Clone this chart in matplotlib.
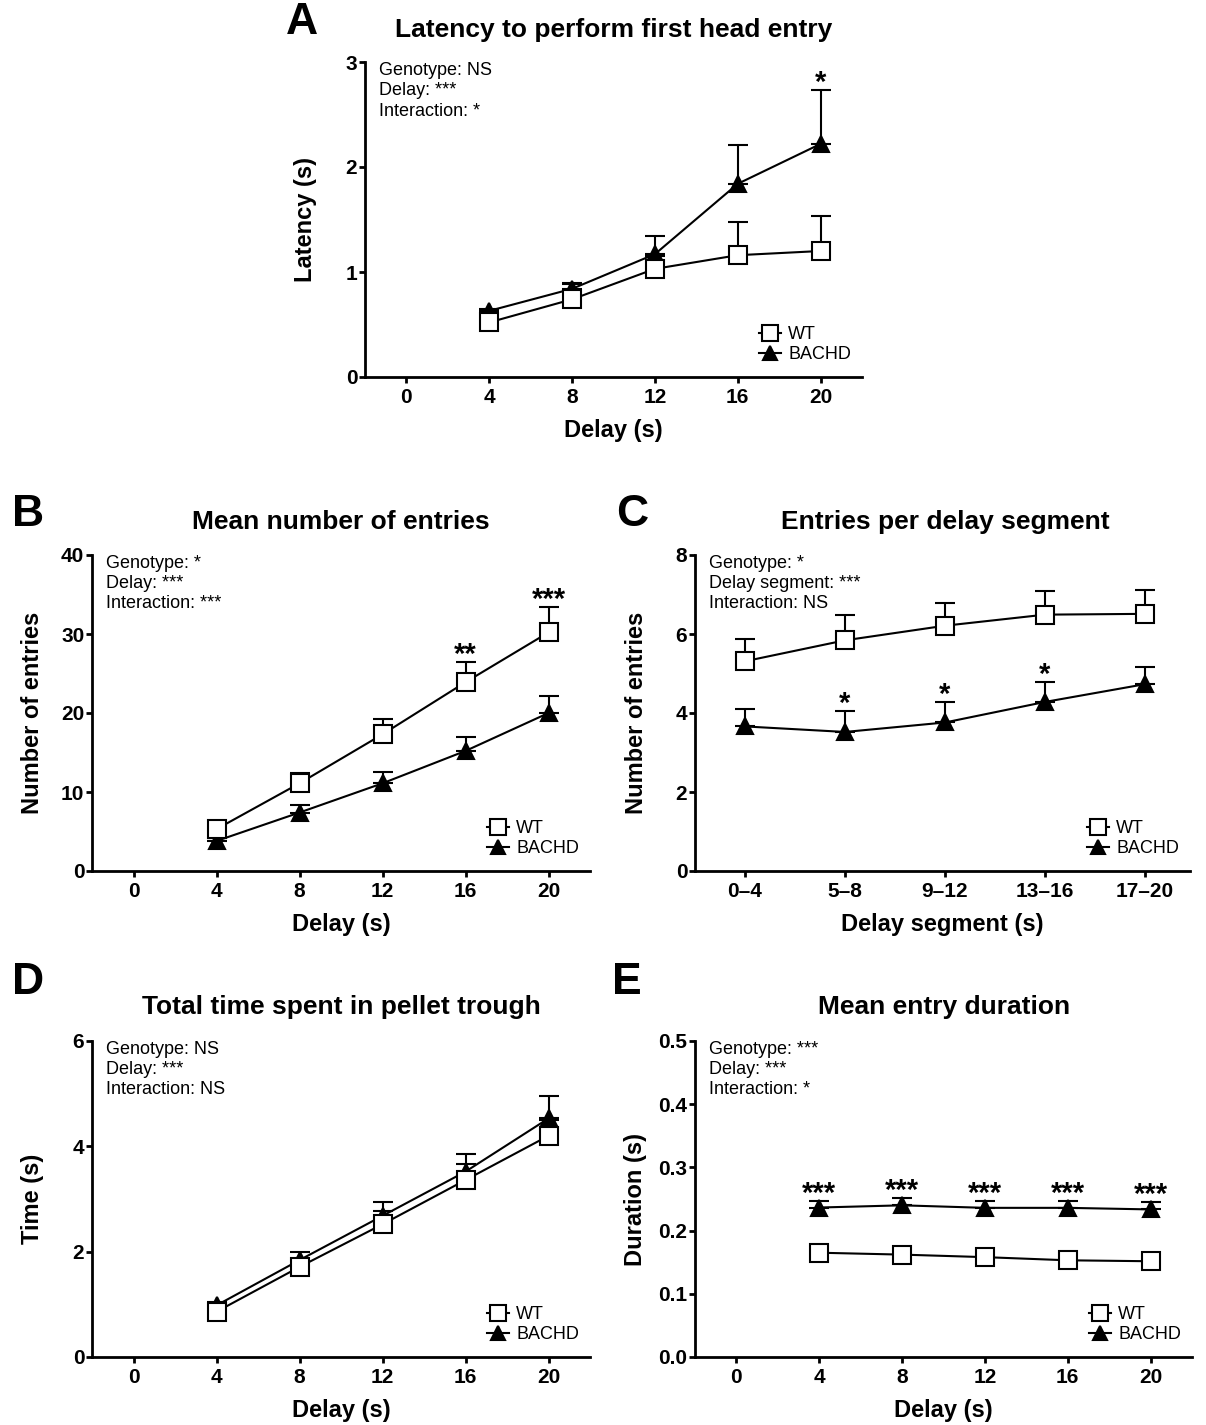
import matplotlib
matplotlib.use("Agg")
import matplotlib.pyplot as plt
import numpy as np

plt.rcParams['font.family'] = ['Liberation Sans', 'DejaVu Sans']

delay = [4, 8, 12, 16, 20]
delay_ticks = [0, 4, 8, 12, 16, 20]
segments = ['0–4', '5–8', '9–12', '13–16', '17–20']

# Panel A: latency to first head entry (s)
a_wt = [0.52, 0.74, 1.03, 1.16, 1.20]
a_wt_err = [0.05, 0.15, 0.12, 0.32, 0.33]
a_hd = [0.63, 0.84, 1.17, 1.84, 2.22]
a_hd_err = [0.02, 0.06, 0.17, 0.37, 0.51]
a_stars = ['', '', '', '', '*']

# Panel B: mean number of entries
b_wt = [5.3, 11.1, 17.3, 23.9, 30.2]
b_wt_err = [0.4, 1.3, 2.0, 2.5, 3.2]
b_hd = [3.8, 7.4, 11.1, 15.2, 20.0]
b_hd_err = [0.4, 1.0, 1.4, 1.8, 2.2]
b_stars = ['', '', '', '**', '***']

# Panel C: entries per delay segment
c_wt = [5.31, 5.84, 6.21, 6.49, 6.51]
c_wt_err = [0.57, 0.65, 0.58, 0.61, 0.61]
c_hd = [3.66, 3.52, 3.76, 4.28, 4.73]
c_hd_err = [0.44, 0.53, 0.53, 0.50, 0.44]
c_stars = ['', '*', '*', '*', '']

# Panel D: total time in pellet trough (s)
d_wt = [0.86, 1.71, 2.52, 3.36, 4.20]
d_wt_err = [0.08, 0.15, 0.25, 0.30, 0.30]
d_hd = [0.98, 1.84, 2.68, 3.52, 4.53]
d_hd_err = [0.07, 0.16, 0.26, 0.34, 0.43]

# Panel E: mean entry duration (s)
e_wt = [0.165, 0.162, 0.158, 0.153, 0.1515]
e_wt_err = [0.004, 0.004, 0.004, 0.004, 0.004]
e_hd = [0.2365, 0.240, 0.236, 0.236, 0.2335]
e_hd_err = [0.0105, 0.012, 0.011, 0.011, 0.012]
e_stars = ['***', '***', '***', '***', '***']

W, H = 1206, 1425
fig = plt.figure(figsize=(W / 100, H / 100), dpi=100)


def rect(l, r, t, b):
    return [l / W, 1 - b / H, (r - l) / W, (b - t) / H]


def series(ax, x, y, err, marker, face, ms, z):
    ax.errorbar(x, y, yerr=[np.zeros(len(err)), err], fmt='none', ecolor='black',
                elinewidth=1.5, capsize=7, capthick=1.5, zorder=z, clip_on=False)
    ax.plot(x, y, color='black', lw=1.5, marker=marker, mfc=face, mec='black',
            mew=1.5, ms=ms, zorder=z + 0.5, clip_on=False)


def panel(pos, x, wt, wt_err, hd, hd_err, xlim, ylim, yticks, yticklabels,
          xticks, xticklabels, xlabel, ylabel, title, title_xy, letter, letter_xy,
          stats, stars=None, star_base=None):
    ax = fig.add_axes(rect(*pos))
    series(ax, x, hd, hd_err, '^', 'black', 12, 2)
    series(ax, x, wt, wt_err, 's', 'white', 13, 3)
    ax.set_xlim(*xlim)
    ax.set_ylim(*ylim)
    ax.set_yticks(yticks)
    ax.set_yticklabels(yticklabels, fontsize=15, fontweight='bold')
    ax.set_xticks(xticks)
    ax.set_xticklabels(xticklabels, fontsize=15, fontweight='bold')
    for s in ['top', 'right']:
        ax.spines[s].set_visible(False)
    for s in ['left', 'bottom']:
        ax.spines[s].set_linewidth(2.0)
    ax.tick_params(axis='both', direction='out', length=4, width=2.0)
    ax.tick_params(axis='y', pad=1.5)
    ax.tick_params(axis='x', pad=4)
    ax.set_xlabel(xlabel, fontsize=17, fontweight='bold', va='center')
    ax.set_ylabel(ylabel, fontsize=17, fontweight='bold', va='center')
    ax.xaxis.set_label_coords(0.5, -0.17)
    ax.yaxis.set_label_coords(-0.119, 0.5)
    ax.text(0.028, 1.0, stats, transform=ax.transAxes, ha='left', va='top',
            fontsize=13, linespacing=1.25)
    fig.text(title_xy[0] / W, 1 - title_xy[1] / H, title, ha='center', va='center',
             fontsize=19, fontweight='bold')
    fig.text(letter_xy[0] / W, 1 - letter_xy[1] / H, letter, ha='center', va='center',
             fontsize=32, fontweight='bold')
    if stars is not None:
        for xi, st, yb in zip(x, stars, star_base):
            if st:
                ax.annotate(st, (xi, yb), xytext=(0, -5), textcoords='offset points',
                            ha='center', va='bottom', fontsize=21, fontweight='bold')
    h_wt = plt.Line2D([], [], color='black', lw=1.5, marker='s', mfc='white',
                      mec='black', mew=1.5, ms=11)
    h_hd = plt.Line2D([], [], color='black', lw=1.5, marker='^', mfc='black',
                      mec='black', mew=1.5, ms=10)
    ax.legend([h_wt, h_hd], ['WT', 'BACHD'], loc='lower right',
              bbox_to_anchor=(1.0, 0.01), frameon=False, fontsize=13,
              handlelength=1.2, handletextpad=0.4, labelspacing=0.15,
              borderaxespad=0.2)
    return ax


def tops(y, e):
    return [a + b for a, b in zip(y, e)]


panel((365, 862, 62, 377), delay, a_wt, a_wt_err, a_hd, a_hd_err,
      (-2, 22), (0, 3), [0, 1, 2, 3], ['0', '1', '2', '3'],
      delay_ticks, [str(t) for t in delay_ticks], 'Delay (s)', 'Latency (s)',
      'Latency to perform first head entry', (614, 30), 'A', (302, 22),
      'Genotype: NS\nDelay: ***\nInteraction: *',
      a_stars, tops(a_hd, a_hd_err))

panel((92, 590, 555, 871), delay, b_wt, b_wt_err, b_hd, b_hd_err,
      (-2, 22), (0, 40), [0, 10, 20, 30, 40], ['0', '10', '20', '30', '40'],
      delay_ticks, [str(t) for t in delay_ticks], 'Delay (s)', 'Number of entries',
      'Mean number of entries', (341, 522), 'B', (28, 515),
      'Genotype: *\nDelay: ***\nInteraction: ***',
      b_stars, tops(b_wt, b_wt_err))

panel((695, 1190, 555, 871), list(range(5)), c_wt, c_wt_err, c_hd, c_hd_err,
      (-0.5, 4.45), (0, 8), [0, 2, 4, 6, 8], ['0', '2', '4', '6', '8'],
      list(range(5)), segments, 'Delay segment (s)', 'Number of entries',
      'Entries per delay segment', (945, 522), 'C', (632, 515),
      'Genotype: *\nDelay segment: ***\nInteraction: NS',
      c_stars, tops(c_hd, c_hd_err))

panel((92, 590, 1041, 1357), delay, d_wt, d_wt_err, d_hd, d_hd_err,
      (-2, 22), (0, 6), [0, 2, 4, 6], ['0', '2', '4', '6'],
      delay_ticks, [str(t) for t in delay_ticks], 'Delay (s)', 'Time (s)',
      'Total time spent in pellet trough', (341, 1007), 'D', (28, 983),
      'Genotype: NS\nDelay: ***\nInteraction: NS')

panel((695, 1192, 1041, 1357), delay, e_wt, e_wt_err, e_hd, e_hd_err,
      (-2, 22), (0, 0.5), [0, 0.1, 0.2, 0.3, 0.4, 0.5],
      ['0.0', '0.1', '0.2', '0.3', '0.4', '0.5'],
      delay_ticks, [str(t) for t in delay_ticks], 'Delay (s)', 'Duration (s)',
      'Mean entry duration', (944, 1007), 'E', (627, 983),
      'Genotype: ***\nDelay: ***\nInteraction: *',
      e_stars, tops(e_hd, e_hd_err))

fig.savefig('out.png', dpi=100, facecolor='white')
